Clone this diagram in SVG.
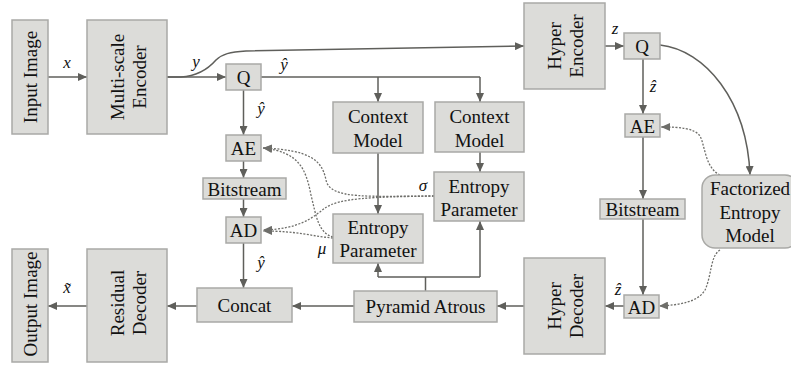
<svg xmlns="http://www.w3.org/2000/svg" width="791" height="366" viewBox="0 0 791 366">
  <defs>
    <marker id="arr" viewBox="0 0 9 8" refX="9" refY="4" markerWidth="9" markerHeight="8" markerUnits="userSpaceOnUse" orient="auto">
      <path d="M0,0 L9,4 L0,8 z" fill="#5f5f5b"/>
    </marker>
    <marker id="arrd" viewBox="0 0 9 8" refX="9" refY="4" markerWidth="9" markerHeight="8" markerUnits="userSpaceOnUse" orient="auto">
      <path d="M0,0 L9,4 L0,8 z" fill="#6e6e6a"/>
    </marker>
  </defs>
  <style>
    .box { fill: #dcdcd9; stroke: #a9a9a6; stroke-width: 1.5; }
    text { font-family: 'Liberation Serif', 'DejaVu Serif', serif; }
    .t { font-size: 19px; fill: #111; text-anchor: middle; }
    .m { font-size: 17px; font-style: italic; fill: #111; text-anchor: middle; }
    .ln { fill: none; stroke: #5f5f5b; stroke-width: 1.5; }
    .la { fill: none; stroke: #5f5f5b; stroke-width: 1.5; marker-end: url(#arr); }
    .dt { fill: none; stroke: #6e6e6a; stroke-width: 1.3; stroke-dasharray: 2 1.5; marker-end: url(#arrd); }
  </style>
  <rect width="791" height="366" fill="#ffffff"/>

  <!-- connectors -->
  <g id="connectors">
    <path class="la" d="M48,77 L87,77"/>
    <path class="la" d="M167,77 L226,77"/>
    <path class="la" d="M167,77 L181,77 C199,76 209,68 216,60 C222,54 230,52 246,51 L524,46"/>
    <path class="ln" d="M261,77 L480,77"/>
    <path class="la" d="M378,77 L378,102"/>
    <path class="la" d="M480,77 L480,102"/>
    <path class="la" d="M243.5,90 L243.5,135"/>
    <path class="la" d="M243.5,161 L243.5,178"/>
    <path class="la" d="M243.5,199 L243.5,217"/>
    <path class="la" d="M243.5,243 L243.5,288"/>
    <path class="la" d="M197,306 L167,306"/>
    <path class="la" d="M87,306 L48,306"/>
    <path class="la" d="M354,306 L292,306"/>
    <path class="la" d="M524,306 L497,306"/>
    <path class="la" d="M624,306 L605,306"/>
    <path class="la" d="M605,46 L624,46"/>
    <path class="la" d="M643,59 L643,114"/>
    <path class="la" d="M643,137 L643,199"/>
    <path class="la" d="M643,219 L643,295"/>
    <path class="la" d="M660,45 C705,50 747,100 750,175"/>
    <path class="la" d="M378,153 L378,214"/>
    <path class="la" d="M480,152 L480,172"/>
    <path class="ln" d="M425.5,291 L425.5,277 M378,277 L480,277"/>
    <path class="la" d="M378,277 L378,263"/>
    <path class="la" d="M480,277 L480,221"/>
    <!-- dotted parameter links -->
    <path class="dt" d="M434,196 C370,196 330,200 326,180 C322,160 310,150 263,148"/>
    <path class="dt" d="M434,196 C370,197 340,198 325,208 C312,218 300,229 263,230"/>
    <path class="dt" d="M333,237 C318,233 316,215 311,195 C306,170 300,152 263,148"/>
    <path class="dt" d="M333,238 C310,236 298,231 263,231"/>
    <path class="dt" d="M720,175 C705,168 705,145 700,136 C694,128 680,127 661,127"/>
    <path class="dt" d="M720,250 C710,256 712,275 705,290 C698,302 680,305 659,306"/>
  </g>

  <!-- labels on connectors -->
  <g id="labels">
    <text class="m" x="67" y="68">x</text>
    <text class="m" x="196" y="67">y</text>
    <text class="m" x="284" y="70">ŷ</text>
    <text class="m" x="261" y="114">ŷ</text>
    <text class="m" x="615" y="34">z</text>
    <text class="m" x="653" y="92">ẑ</text>
    <text class="m" x="423" y="191">σ</text>
    <text class="m" x="322" y="254">μ</text>
    <text class="m" x="261" y="268">ŷ</text>
    <text class="m" x="618" y="295">ẑ</text>
    <text class="m" x="67" y="293">x̃</text>
  </g>

  <g id="input-image">
    <rect class="box" x="12" y="20" width="36" height="114"/>
    <text class="t" transform="translate(37,77) rotate(-90)">Input Image</text>
  </g>
  <g id="multiscale-encoder">
    <rect class="box" x="87" y="20" width="80" height="114"/>
    <text class="t" transform="translate(124,77) rotate(-90)">Multi-scale</text>
    <text class="t" transform="translate(146,77) rotate(-90)">Encoder</text>
  </g>
  <g id="q-y">
    <rect class="box" x="226" y="64" width="35" height="26"/>
    <text class="t" x="243.5" y="84">Q</text>
  </g>
  <g id="ae-y">
    <rect class="box" x="226" y="135" width="35" height="26"/>
    <text class="t" x="243.5" y="155">AE</text>
  </g>
  <g id="bitstream-y">
    <rect class="box" x="203" y="178" width="83" height="21"/>
    <text class="t" x="244.5" y="196">Bitstream</text>
  </g>
  <g id="ad-y">
    <rect class="box" x="226" y="217" width="35" height="26"/>
    <text class="t" x="243.5" y="237">AD</text>
  </g>
  <g id="concat">
    <rect class="box" x="197" y="288" width="95" height="34"/>
    <text class="t" x="244.5" y="312">Concat</text>
  </g>
  <g id="residual-decoder">
    <rect class="box" x="87" y="249" width="80" height="113"/>
    <text class="t" transform="translate(124,303) rotate(-90)">Residual</text>
    <text class="t" transform="translate(146,303) rotate(-90)">Decoder</text>
  </g>
  <g id="output-image">
    <rect class="box" x="12" y="249" width="36" height="113"/>
    <text class="t" transform="translate(37,304) rotate(-90)">Output Image</text>
  </g>
  <g id="context-model-1">
    <rect class="box" x="333" y="102" width="90" height="51"/>
    <text class="t" x="378" y="123">Context</text>
    <text class="t" x="378" y="147">Model</text>
  </g>
  <g id="context-model-2">
    <rect class="box" x="435" y="102" width="89" height="50"/>
    <text class="t" x="479.5" y="123">Context</text>
    <text class="t" x="479.5" y="147">Model</text>
  </g>
  <g id="entropy-parameter-sigma">
    <rect class="box" x="434" y="172" width="90" height="49"/>
    <text class="t" x="479" y="193">Entropy</text>
    <text class="t" x="479" y="216">Parameter</text>
  </g>
  <g id="entropy-parameter-mu">
    <rect class="box" x="333" y="214" width="90" height="49"/>
    <text class="t" x="378" y="234">Entropy</text>
    <text class="t" x="378" y="257">Parameter</text>
  </g>
  <g id="pyramid-atrous">
    <rect class="box" x="354" y="291" width="143" height="31"/>
    <text class="t" x="425.5" y="313">Pyramid Atrous</text>
  </g>
  <g id="hyper-encoder">
    <rect class="box" x="524" y="3" width="81" height="86"/>
    <text class="t" transform="translate(561,46) rotate(-90)">Hyper</text>
    <text class="t" transform="translate(583,46) rotate(-90)">Encoder</text>
  </g>
  <g id="q-z">
    <rect class="box" x="624" y="33" width="36" height="26"/>
    <text class="t" x="642" y="53">Q</text>
  </g>
  <g id="ae-z">
    <rect class="box" x="625" y="114" width="35" height="23"/>
    <text class="t" x="642.5" y="133">AE</text>
  </g>
  <g id="bitstream-z">
    <rect class="box" x="600" y="199" width="85" height="20"/>
    <text class="t" x="642.5" y="216">Bitstream</text>
  </g>
  <g id="ad-z">
    <rect class="box" x="624" y="295" width="35" height="23"/>
    <text class="t" x="641.5" y="314">AD</text>
  </g>
  <g id="hyper-decoder">
    <rect class="box" x="524" y="258" width="81" height="96"/>
    <text class="t" transform="translate(561,306) rotate(-90)">Hyper</text>
    <text class="t" transform="translate(583,306) rotate(-90)">Decoder</text>
  </g>
  <g id="factorized-entropy-model">
    <rect class="box" x="702" y="175" width="96" height="73" rx="13" ry="13"/>
    <text class="t" x="750" y="195">Factorized</text>
    <text class="t" x="750" y="219">Entropy</text>
    <text class="t" x="750" y="242">Model</text>
  </g>
</svg>
